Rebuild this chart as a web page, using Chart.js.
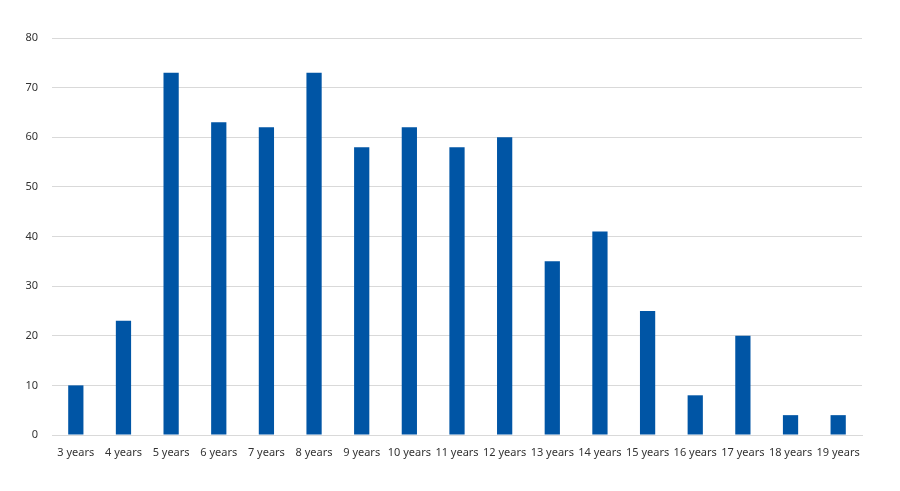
<!DOCTYPE html>
<html>
<head>
<meta charset="utf-8">
<script src="https://cdn.jsdelivr.net/npm/chart.js@4"></script>
<style>
  html, body { margin: 0; padding: 0; background: #fff; }
  #wrap { width: 900px; height: 491px; }
</style>
</head>
<body>
<div id="wrap"><canvas id="chart"></canvas></div>
<script>
// data
const categories = ['3 years', '4 years', '5 years', '6 years', '7 years', '8 years', '9 years', '10 years',
  '11 years', '12 years', '13 years', '14 years', '15 years', '16 years', '17 years', '18 years', '19 years'];
const counts = [10, 23, 73, 63, 62, 73, 58, 62, 58, 60, 35, 41, 25, 8, 20, 4, 4];
const yMin = 0, yMax = 80, yStep = 10;

const font = { family: "'Noto Sans', 'Open Sans', sans-serif", size: 11 };

new Chart(document.getElementById('chart'), {
  type: 'bar',
  data: {
    labels: categories,
    datasets: [{
      data: counts,
      backgroundColor: '#0055a5',
      categoryPercentage: 1,
      barPercentage: 0.32
    }]
  },
  options: {
    responsive: true,
    maintainAspectRatio: false,
    animation: false,
    layout: { padding: { top: 38, right: 38, bottom: 0, left: 0 } },
    plugins: { legend: { display: false }, tooltip: { enabled: false } },
    scales: {
      x: {
        grid: { display: false, drawTicks: false },
        border: { display: true, color: '#d9d9d9' },
        ticks: { color: '#333', font: font, padding: 11, maxRotation: 0, autoSkip: false },
        afterFit: (axis) => { axis.height = 56; }
      },
      y: {
        min: yMin,
        max: yMax,
        grid: { color: '#d9d9d9', drawTicks: false },
        border: { display: false },
        ticks: { stepSize: yStep, color: '#333', font: font, padding: 14 },
        afterFit: (axis) => { axis.width = 52; }
      }
    }
  }
});
</script>
</body>
</html>
